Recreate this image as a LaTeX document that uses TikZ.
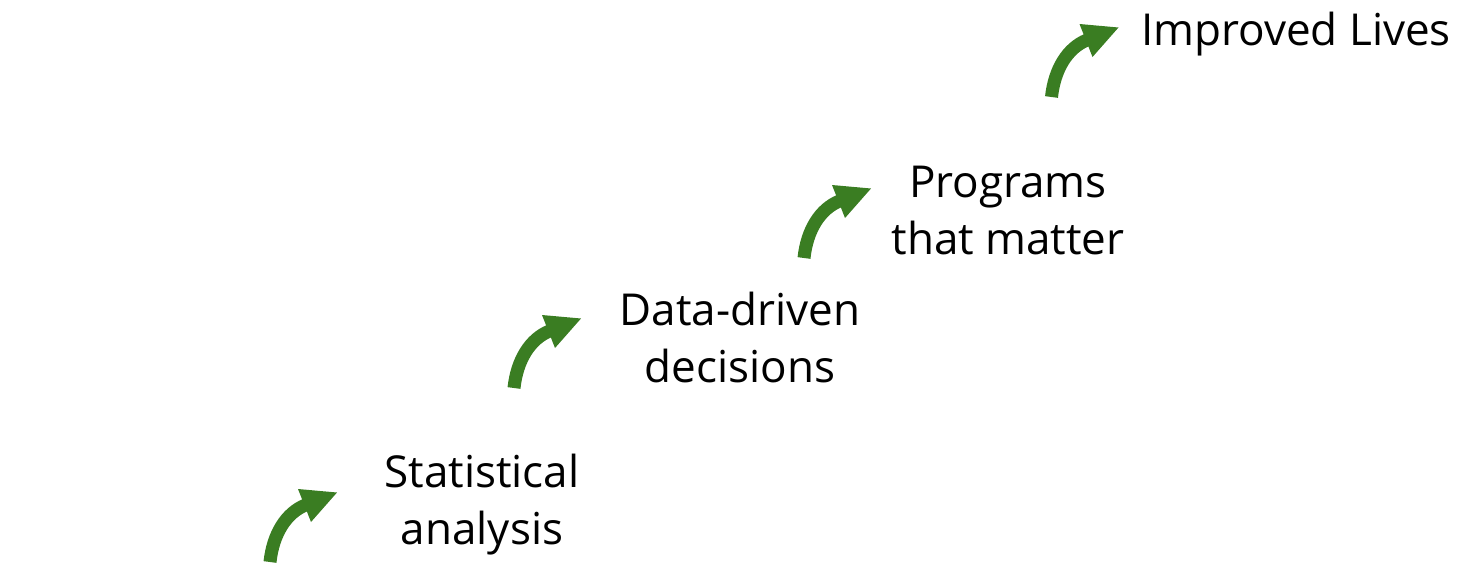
\documentclass[tikz,border=0pt]{standalone}
\usepackage{fontspec}
\setmainfont{Open Sans}
\definecolor{arrowgreen}{RGB}{58,125,34}
\tikzset{
  label/.style={inner sep=0pt, align=center, anchor=base, text=black,
    font=\fontsize{44}{57}\selectfont},
  growarrow/.pic={
    \draw[line width=13, line cap=butt, draw=arrowgreen]
      (0,0) .. controls (3,-28) and (16,-49) .. (35.5,-57);
    \fill[arrowgreen] (28,-73) -- (67,-69.5) -- (41,-40) -- cycle;
  }
}
\begin{document}
\begin{tikzpicture}[x=1pt,y=-1pt]
\useasboundingbox (0,0) rectangle (1461,563);
\coordinate (a1) at (270,562);
\coordinate (a2) at (514,388);
\coordinate (a3) at (804,258);
\coordinate (a4) at (1051.5,97);
\pic at (a1) {growarrow};
\pic at (a2) {growarrow};
\pic at (a3) {growarrow};
\pic at (a4) {growarrow};
\node[label] (stat) at (482,544) {Statistical\\analysis};
\node[label] (data) at (740,382) {Data-driven\\decisions};
\node[label] (prog) at (1008,254) {Programs\\that matter};
\node[label] (live) at (1296,45) {Improved Lives};
\end{tikzpicture}
\end{document}
